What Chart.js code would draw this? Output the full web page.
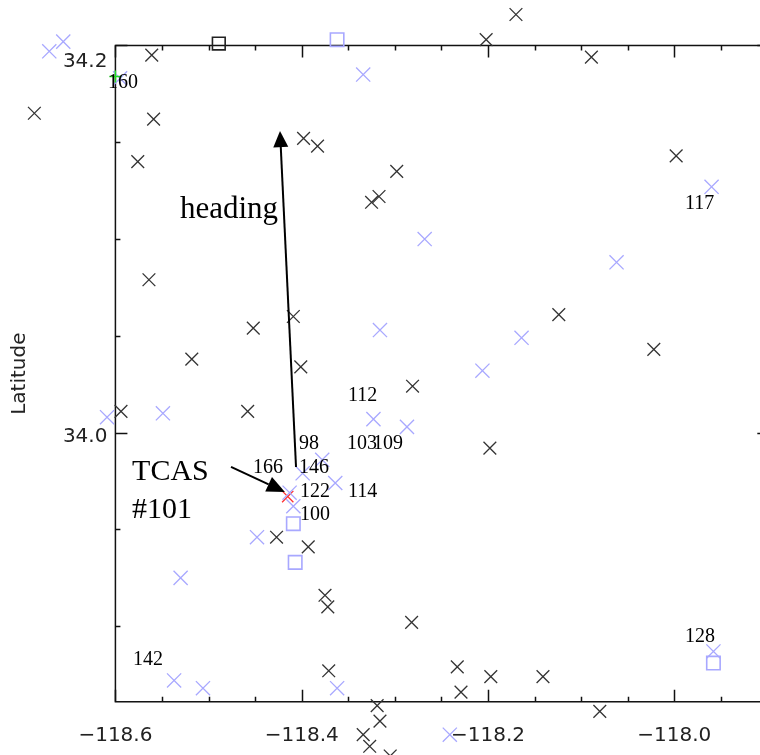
<!DOCTYPE html>
<html>
<head>
<meta charset="utf-8">
<script src="https://cdn.jsdelivr.net/npm/chart.js@4.4.0/dist/chart.umd.min.js"></script>
<style>
  html, body { margin: 0; padding: 0; background: #fff; overflow: hidden; }
  #wrap { width: 760px; height: 755px; overflow: hidden; }
</style>
</head>
<body>
<div id="wrap"><canvas id="trafficChart" width="775" height="755"></canvas></div>
<script>
// surveillance targets, dark crosses
const darkLon = [-118.561, -118.687, -118.559, -118.576, -118.398, -118.383, -118.325, -118.317, -118.298, -118.202,
                 -118.170, -118.089, -117.998, -118.564, -118.452, -118.409, -118.518, -118.401, -118.594, -118.458,
                 -118.281, -118.124, -118.022, -118.198, -118.427, -118.393, -118.375, -118.372, -118.371, -118.282,
                 -118.233, -118.229, -118.197, -118.141, -118.080, -118.319, -118.316, -118.334, -118.327, -118.305]
const darkLat = [34.195, 34.165, 34.162, 34.140, 34.152, 34.148, 34.119, 34.122, 34.135, 34.203,
                 34.216, 34.194, 34.143, 34.079, 34.054, 34.060, 34.038, 34.034, 34.011, 34.011,
                 34.024, 34.061, 34.043, 33.992, 33.946, 33.941, 33.916, 33.910, 33.877, 33.902,
                 33.879, 33.866, 33.874, 33.874, 33.856, 33.859, 33.851, 33.844, 33.838, 33.833]

// secondary targets, light blue crosses
const blueLon = [-118.671, -118.656, -118.595, -118.334, -117.960, -118.268, -118.062, -118.316, -118.164, -118.206,
                 -118.609, -118.549, -118.323, -118.287, -118.378, -118.399, -118.364, -118.413, -118.409, -118.448,
                 -118.530, -118.537, -118.506, -118.362, -118.241, -117.958]
const blueLat = [34.197, 34.202, 34.183, 34.185, 34.127, 34.100, 34.088, 34.053, 34.049, 34.032,
                 34.008, 34.010, 34.007, 34.003, 33.986, 33.979, 33.974, 33.969, 33.962, 33.946,
                 33.925, 33.872, 33.868, 33.868, 33.844, 33.887]

// squares
const blueBoxLon = [-118.362, -118.409, -118.407, -117.958]
const blueBoxLat = [34.203, 33.953, 33.933, 33.881]
const darkBoxLon = [-118.489]
const darkBoxLat = [34.201]

// own ship and the TCAS intruder
const ownLon = [-118.600]
const ownLat = [34.184]
const tcasLon = [-118.415]
const tcasLat = [33.967]

// number tags (left edge, baseline)
const tagText = ['160', '117', '112', '98', '103', '109', '166', '146', '122', '114', '100', '142', '128']
const tagLon = [-118.608, -117.9885, -118.3503, -118.403, -118.3515, -118.3236, -118.4522, -118.403, -118.4018, -118.3503, -118.4018, -118.5811, -117.9885]
const tagLat = [34.178, 34.1155, 34.0164, 33.9916, 33.9916, 33.9916, 33.9792, 33.9792, 33.9668, 33.9668, 33.9549, 33.880, 33.8919]

// plot box and ticks
const boxLon = [-118.6, -117.898]
const boxLat = [33.861, 34.2]
const xTickValues = [-118.6, -118.4, -118.2, -118.0]
const yTickValues = [34.0, 34.2]
const minorStep = 0.05

// the scales span the whole canvas so targets outside the box still show
const viewLon = [-118.7239, -117.8919]
const viewLat = [33.8335, 34.2235]

function toPoints(lons, lats) {
    return lons.map((lon, i) => ({ x: lon, y: lats[i] }))
}

function drawArrow(ctx, x0, y0, x1, y1, headLen, headHalf) {
    const len = Math.hypot(x1 - x0, y1 - y0)
    const ux = (x1 - x0) / len
    const uy = (y1 - y0) / len
    const bx = x1 - ux * headLen
    const by = y1 - uy * headLen
    ctx.beginPath()
    ctx.moveTo(x0, y0)
    ctx.lineTo(bx, by)
    ctx.stroke()
    ctx.beginPath()
    ctx.moveTo(x1, y1)
    ctx.lineTo(bx - uy * headHalf, by + ux * headHalf)
    ctx.lineTo(bx + uy * headHalf, by - ux * headHalf)
    ctx.closePath()
    ctx.fill()
}

const framePlugin = {
    id: 'frame',
    beforeDatasetsDraw(chart) {
        const { ctx, scales: { x, y } } = chart
        const left = x.getPixelForValue(boxLon[0])
        const right = x.getPixelForValue(boxLon[1])
        const top = y.getPixelForValue(boxLat[1])
        const bottom = y.getPixelForValue(boxLat[0])

        ctx.save()
        ctx.strokeStyle = '#111'
        ctx.lineWidth = 1.5
        ctx.strokeRect(left, top, right - left, bottom - top)

        ctx.beginPath()
        for (let v = boxLon[0]; v <= boxLon[1] + 1e-9; v += minorStep) {
            const px = Math.round(x.getPixelForValue(v)) + 0.5
            const major = xTickValues.some(t => Math.abs(t - v) < 1e-6)
            const len = major ? 12 : 5
            ctx.moveTo(px, top); ctx.lineTo(px, top + len)
            ctx.moveTo(px, bottom); ctx.lineTo(px, bottom - len)
        }
        for (let v = 33.9; v <= boxLat[1] + 1e-9; v += minorStep) {
            const py = Math.round(y.getPixelForValue(v)) + 0.5
            const major = yTickValues.some(t => Math.abs(t - v) < 1e-6)
            const len = major ? 12 : 5
            ctx.moveTo(left, py); ctx.lineTo(left + len, py)
            ctx.moveTo(right, py); ctx.lineTo(right - len, py)
        }
        ctx.stroke()

        // tick labels
        ctx.fillStyle = '#222'
        ctx.font = '20px "DejaVu Sans"'
        ctx.textAlign = 'center'
        ctx.textBaseline = 'alphabetic'
        xTickValues.forEach(v => {
            const txt = (v < 0 ? '\u2212' : '') + Math.abs(v).toFixed(1)
            ctx.fillText(txt, x.getPixelForValue(v), bottom + 39)
        })
        ctx.textAlign = 'right'
        ctx.textBaseline = 'middle'
        yTickValues.forEach(v => {
            const py = Math.max(y.getPixelForValue(v) + 4, top + 16)
            ctx.fillText(v.toFixed(1), left - 8, py)
        })

        // axis title
        ctx.save()
        ctx.translate(20, (top + bottom) / 2)
        ctx.rotate(-Math.PI / 2)
        ctx.textAlign = 'center'
        ctx.fillText('Latitude', 0, 0)
        ctx.restore()
        ctx.restore()
    },
    afterDatasetsDraw(chart) {
        const { ctx, scales: { x, y } } = chart
        ctx.save()
        ctx.fillStyle = '#000'
        ctx.strokeStyle = '#000'
        ctx.lineWidth = 2

        // heading vector
        drawArrow(ctx, x.getPixelForValue(-118.4061), y.getPixelForValue(33.9823),
            x.getPixelForValue(-118.4233), y.getPixelForValue(34.1558), 16, 7.5)
        // pointer to the TCAS intruder
        drawArrow(ctx, x.getPixelForValue(-118.4759), y.getPixelForValue(33.9823),
            x.getPixelForValue(-118.418), y.getPixelForValue(33.9694), 18, 8)

        ctx.textAlign = 'left'
        ctx.textBaseline = 'alphabetic'
        ctx.font = '31px "Liberation Serif"'
        ctx.fillText('heading', x.getPixelForValue(-118.5307), y.getPixelForValue(34.1109))
        ctx.font = '30px "Liberation Serif"'
        ctx.fillText('TCAS', x.getPixelForValue(-118.5821), y.getPixelForValue(33.9756))
        ctx.fillText('#101', x.getPixelForValue(-118.5821), y.getPixelForValue(33.9559))

        ctx.font = '20px "Liberation Serif"'
        tagText.forEach((t, i) => {
            ctx.fillText(t, x.getPixelForValue(tagLon[i]), y.getPixelForValue(tagLat[i]))
        })
        ctx.restore()
    }
}

function markerSet(lons, lats, style, color, radius, width) {
    return {
        data: toPoints(lons, lats),
        pointStyle: style,
        pointRadius: radius,
        pointBorderColor: color,
        pointBackgroundColor: 'rgba(0,0,0,0)',
        pointBorderWidth: width,
        clip: false
    }
}

new Chart(document.getElementById('trafficChart'), {
    type: 'scatter',
    data: {
        datasets: [
            markerSet(ownLon, ownLat, 'cross', '#22dd22', 6, 1.5),
            markerSet(darkLon, darkLat, 'crossRot', '#333', 9, 1.3),
            markerSet(darkBoxLon, darkBoxLat, 'rect', '#222', 9, 1.6),
            markerSet(blueLon, blueLat, 'crossRot', '#a8a8ff', 10, 1.3),
            markerSet(blueBoxLon, blueBoxLat, 'rect', '#a8a8ff', 9.5, 1.6),
            markerSet(tcasLon, tcasLat, 'crossRot', '#ff3030', 8, 1.3)
        ]
    },
    options: {
        responsive: false,
        devicePixelRatio: 1,
        animation: false,
        events: [],
        layout: { padding: 0, autoPadding: false },
        plugins: { legend: { display: false }, tooltip: { enabled: false } },
        scales: {
            x: { type: 'linear', display: false, min: viewLon[0], max: viewLon[1] },
            y: { type: 'linear', display: false, min: viewLat[0], max: viewLat[1] }
        }
    },
    plugins: [framePlugin]
})
</script>
</body>
</html>
